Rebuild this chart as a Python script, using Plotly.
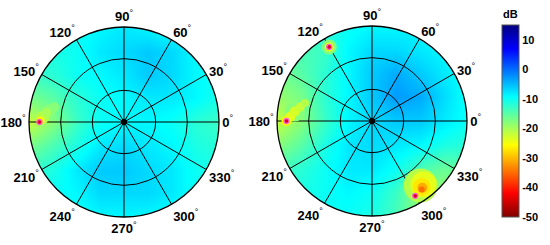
import numpy as np
import plotly.graph_objects as go

# ---------------- data ----------------
grid_x = [-1, -0.75, -0.5, -0.25, 0, 0.25, 0.5, 0.75, 1]
grid_y = [1, 0.75, 0.5, 0.25, 0, -0.25, -0.5, -0.75, -1]  # rows listed top -> bottom

left_db = [
    [-11, -11, -10, -9, -8, -9, -10, -10, -10],
    [-11, -11, -10, -8, -7, -6, -7, -9, -10],
    [-13, -12, -10, -9, -8, -6, -7, -9, -10],
    [-17, -15, -12, -10, -9, -8, -8, -9, -11],
    [-22, -18, -13, -10, -9, -9, -10, -12, -13],
    [-17, -14, -11, -8, -7, -8, -9, -11, -12],
    [-13, -11, -8, -6, -6, -7, -8, -10, -11],
    [-11, -10, -9, -7, -7, -7, -8, -10, -10],
    [-10, -10, -10, -9, -9, -9, -10, -10, -10],
]

right_db = [
    [-12, -12, -11, -10, -9, -9, -9, -10, -10],
    [-15, -14, -13, -9, -7, -7, -8, -9, -10],
    [-17, -15, -12, -9, -6, -4, -6, -8, -10],
    [-19, -17, -12, -9, -6, -3, -4, -7, -10],
    [-22, -18, -13, -9, -7, -6, -6, -8, -10],
    [-18, -15, -11, -8, -7, -8, -9, -11, -12],
    [-14, -12, -10, -8, -8, -10, -14, -16, -15],
    [-12, -11, -10, -9, -10, -13, -19, -19, -16],
    [-11, -11, -10, -10, -11, -14, -18, -18, -15],
]

# local hot spots (drawn as coloured blobs, large first)
left_hot_r = [0.80, 0.75, 0.86, 0.82, 0.88]
left_hot_theta = [172, 168, 177, 173, 179]
left_hot_db = [-18, -18, -21, -20, -26]
left_hot_size = [14, 10, 13, 9, 8]

right_hot_r = [0.90, 0.90,
               0.82, 0.90, 0.86, 0.82, 0.77, 0.73,
               0.85, 0.86, 0.87, 0.88, 0.89]
right_hot_theta = [120, 120,
                   173, 180, 177, 173, 169, 165,
                   307, 309, 307, 307, 306]
right_hot_db = [-18, -24,
                -18, -26, -24, -23, -22, -21,
                -21, -24, -27, -31, -35]
right_hot_size = [15, 9,
                  20, 10, 10, 10, 9, 8,
                  34, 26, 18, 10, 6]

# source positions (pink dots)
left_src_r = [0.89]
left_src_theta = [180]
right_src_r = [0.90, 0.90, 0.91]
right_src_theta = [120, 180, 300]

center_r = [0]
center_theta = [0]

angle_ticks = [0, 30, 60, 90, 120, 150, 180, 210, 240, 270, 300, 330]
angle_labels = [f"<b>{a}</b><sup>°</sup>" for a in angle_ticks]
ring_ticks = [1 / 3, 2 / 3, 1]
cbar_ticks = [10, 0, -10, -20, -30, -40, -50]
cbar_labels = [f"<b>{v}</b>" for v in cbar_ticks]

# ---------------- style ----------------
W, H = 550, 245
R = 95
FONT = "Liberation Sans, Arial, sans-serif"

jet_r = [
    [0.0, "rgb(128,0,0)"],
    [0.125, "rgb(255,0,0)"],
    [0.375, "rgb(255,255,0)"],
    [0.625, "rgb(0,255,255)"],
    [0.875, "rgb(0,0,255)"],
    [1.0, "rgb(0,0,128)"],
]


def px_x(x):
    return x / W


def px_y(y_top):
    return (H - y_top) / H


def domain(cx, cy_top):
    return [px_x(cx - R), px_x(cx + R)], [px_y(cy_top + R), px_y(cy_top - R)]


dom_left = domain(124, 122)
dom_right = domain(372, 121)

fig = go.Figure()

# mask geometry (white area outside the unit circle)
t = np.linspace(0, -2 * np.pi, 241)
mask_x = [1.2, 1.2, -1.2, -1.2, 1.2, 1.2] + list(np.cos(t)) + [1.2]
mask_y = [0, 1.2, 1.2, -1.2, -1.2, 0] + list(np.sin(t)) + [0]

for i, (db, ax) in enumerate([(left_db, ""), (right_db, "2")]):
    fig.add_trace(go.Heatmap(
        x=grid_x, y=grid_y[::-1], z=db[::-1], zsmooth="best",
        coloraxis="coloraxis", xaxis="x" + ax, yaxis="y" + ax,
        hoverinfo="skip", showscale=False,
    ))
    fig.add_trace(go.Scatter(
        x=mask_x, y=mask_y, mode="lines", fill="toself",
        fillcolor="white", line=dict(width=0, color="white"),
        xaxis="x" + ax, yaxis="y" + ax, hoverinfo="skip", showlegend=False,
    ))

for sub, hr, ht, hd, hs, sr, st in [
    ("polar", left_hot_r, left_hot_theta, left_hot_db, left_hot_size, left_src_r, left_src_theta),
    ("polar2", right_hot_r, right_hot_theta, right_hot_db, right_hot_size, right_src_r, right_src_theta),
]:
    fig.add_trace(go.Scatterpolar(
        r=hr, theta=ht, mode="markers", subplot=sub,
        marker=dict(color=hd, coloraxis="coloraxis", size=hs, line=dict(width=0), opacity=1),
        hoverinfo="skip", showlegend=False,
    ))
    fig.add_trace(go.Scatterpolar(
        r=sr, theta=st, mode="markers", subplot=sub,
        marker=dict(color="rgb(225,0,45)", size=5, line=dict(width=1.3, color="rgb(255,100,210)")),
        hoverinfo="skip", showlegend=False,
    ))
    fig.add_trace(go.Scatterpolar(
        r=center_r, theta=center_theta, mode="markers", subplot=sub,
        marker=dict(color="black", size=6), hoverinfo="skip", showlegend=False,
    ))


def polar_cfg(dom):
    return dict(
        domain=dict(x=dom[0], y=dom[1]),
        bgcolor="rgba(0,0,0,0)",
        radialaxis=dict(range=[0, 1], tickvals=ring_ticks, showticklabels=False,
                        ticks="", showline=False, gridcolor="black", gridwidth=1.2,
                        layer="above traces"),
        angularaxis=dict(tickvals=angle_ticks, ticktext=angle_labels, direction="counterclockwise",
                         rotation=0, ticks="", showline=True, linecolor="black", linewidth=1.3,
                         gridcolor="black", gridwidth=1.2, layer="above traces",
                         tickfont=dict(family=FONT, size=13, color="black")),
    )


def cart_axis(dom):
    return dict(domain=dom, range=[-1, 1], visible=False, fixedrange=True)


fig.update_layout(
    width=W, height=H,
    margin=dict(l=0, r=0, t=0, b=0),
    paper_bgcolor="white", plot_bgcolor="white",
    showlegend=False,
    font=dict(family=FONT, color="black"),
    xaxis=cart_axis(dom_left[0]), yaxis=cart_axis(dom_left[1]),
    xaxis2=cart_axis(dom_right[0]), yaxis2=cart_axis(dom_right[1]),
    polar=polar_cfg(dom_left), polar2=polar_cfg(dom_right),
    coloraxis=dict(
        colorscale=jet_r, cmin=-50, cmax=15,
        colorbar=dict(
            x=px_x(502), xanchor="left", y=px_y(121), yanchor="middle",
            thickness=17, thicknessmode="pixels", len=192, lenmode="pixels",
            xpad=0, ypad=0, outlinewidth=1, outlinecolor="#555",
            tickvals=cbar_ticks, ticktext=cbar_labels, ticks="",
            tickfont=dict(family=FONT, size=11, color="black"),
        ),
    ),
    annotations=[dict(
        text="<b>dB</b>", x=px_x(510), y=px_y(14), xref="paper", yref="paper",
        showarrow=False, xanchor="center", yanchor="middle",
        font=dict(family=FONT, size=11, color="black"),
    )],
)

# remove the browser's default 8 px page margin so the figure fills the window exactly
fig.write_html("out.html", config={"displayModeBar": False},
               post_script="document.body.style.margin='0px';")
